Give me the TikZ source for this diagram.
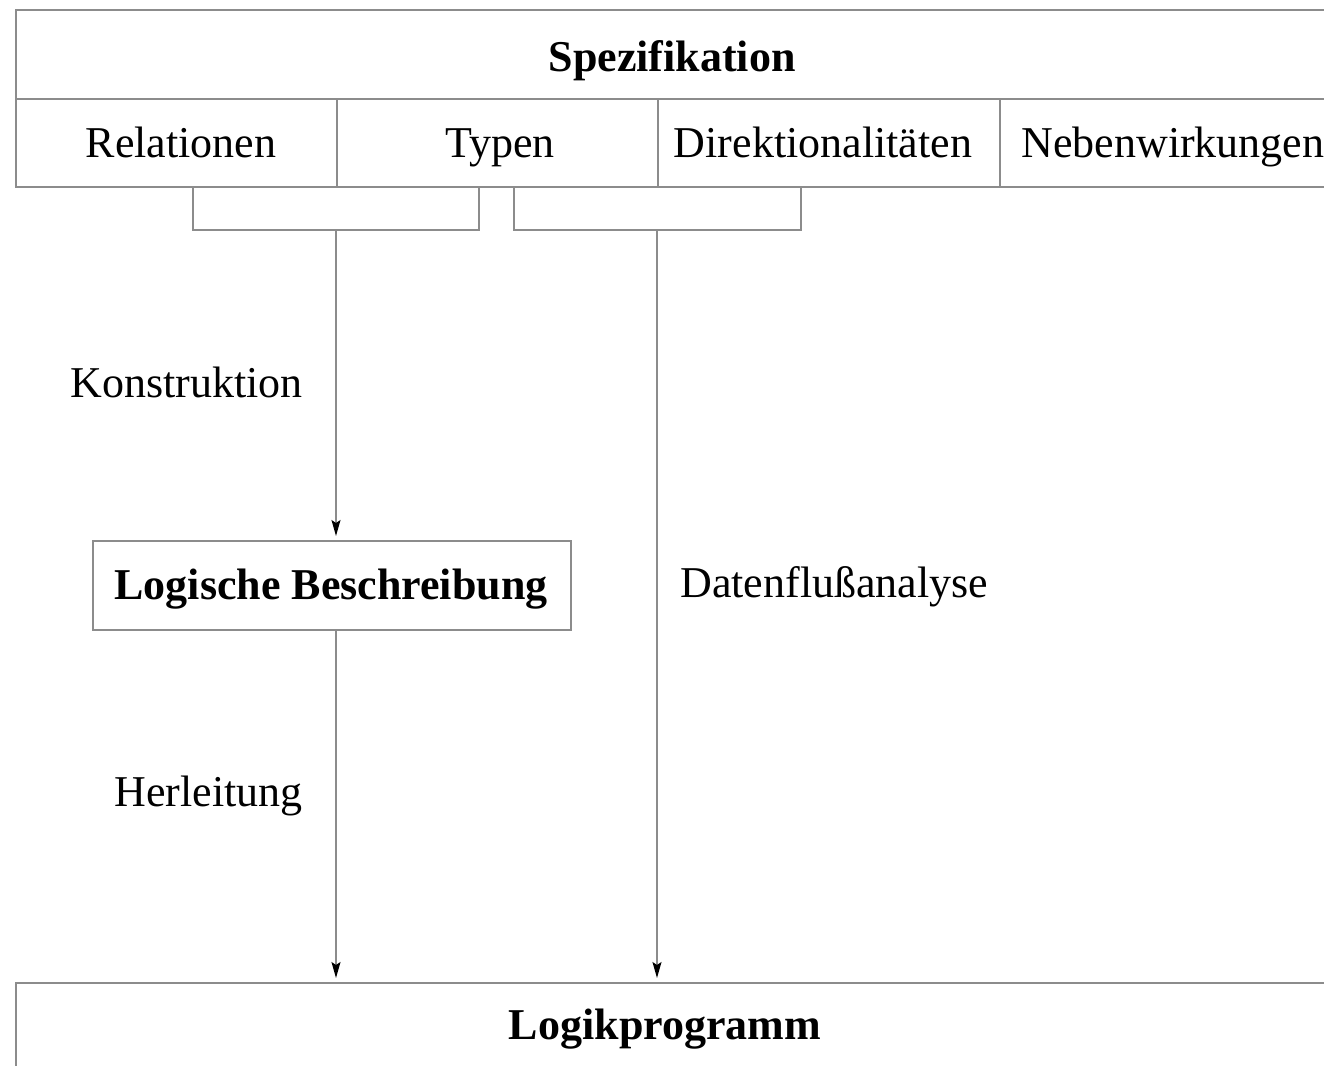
\documentclass[tikz,border=0pt]{standalone}
\usepackage{fontspec}
\setmainfont{Liberation Serif}
\usetikzlibrary{arrows.meta}
\begin{document}
\begin{tikzpicture}[x=0.5pt,y=-0.5pt,
  ln/.style={draw=black!45, line width=0.8pt},
  cell/.style={ln, rectangle, anchor=north west, inner sep=0pt},
  lbl/.style={inner sep=0pt, font=\fontsize{22}{26}\selectfont},
  blbl/.style={lbl, font=\fontsize{22}{26}\selectfont\bfseries},
  arr/.style={ln, -{Stealth[length=8pt,width=4.5pt,inset=1.5pt,black]}, shorten >=2pt}]
\useasboundingbox (0,0) rectangle (1324,1066);
\clip (0,0) rectangle (1324,1066);
\fill[white] (0,0) rectangle (1324,1066);
% top block
\node[cell, minimum width=662.5pt, minimum height=44.5pt] (spez) at (15,9) {};
\node[cell, minimum width=160.5pt, minimum height=44pt] (rel) at (15,98) {};
\node[cell, minimum width=160.5pt, minimum height=44pt] (typ) at (336,98) {};
\node[cell, minimum width=171pt, minimum height=44pt] (dir) at (657,98) {};
\node[cell, minimum width=171pt, minimum height=44pt] (neb) at (999,98) {};
\node[blbl, anchor=base] (spezt) at (672,71) {Spezifikation};
\node[lbl, anchor=base] (relt) at (181,157) {Relationen};
\node[lbl, anchor=base] (typt) at (500,157) {Typen};
\node[lbl, anchor=base] (dirt) at (823,157) {Direktionalitäten};
\node[lbl, anchor=base west] (nebt) at (1021,157) {Nebenwirkungen};
% brackets
\draw[ln] (193,186) -- (193,230) -- (479,230) -- (479,186);
\draw[ln] (514,186) -- (514,230) -- (801,230) -- (801,186);
\coordinate (bl) at (336,230);
\coordinate (br) at (657,230);
% middle box
\node[cell, minimum width=239pt, minimum height=44.5pt] (lb) at (92,540) {};
\node[blbl, anchor=base] (lbt) at (331,599) {Logische Beschreibung};
% bottom box
\node[cell, minimum width=662.5pt, minimum height=50pt] (lp) at (15,982) {};
\node[blbl, anchor=base] (lpt) at (665,1039) {Logikprogramm};
% labels
\node[lbl, anchor=base east] (kon) at (303,397) {Konstruktion};
\node[lbl, anchor=base west] (dfa) at (680,597) {Datenflußanalyse};
\node[lbl, anchor=base east] (her) at (303,806) {Herleitung};
% arrows
\draw[arr] (bl) -- (bl |- lb.north);
\draw[arr] (br) -- (br |- lp.north);
\draw[arr] (lb.south -| bl) -- (bl |- lp.north);
\end{tikzpicture}
\end{document}
